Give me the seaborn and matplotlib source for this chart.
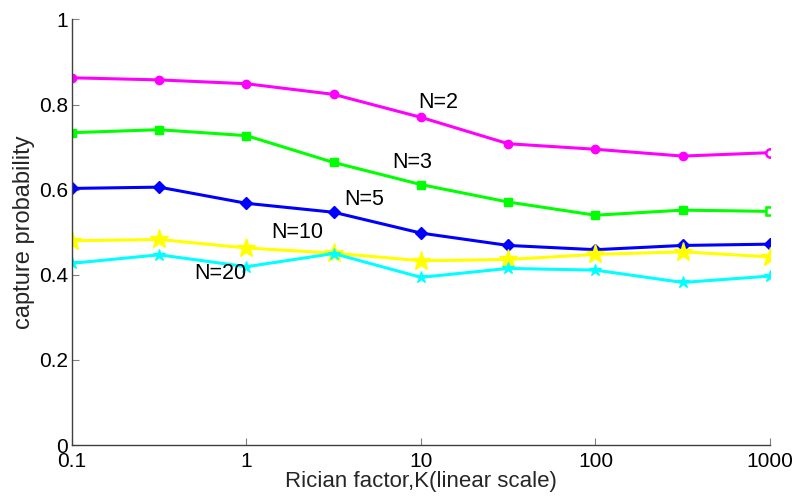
import numpy as np
import pandas as pd
import seaborn as sns
import matplotlib
matplotlib.use("Agg")
import matplotlib.pyplot as plt
from matplotlib.ticker import FixedLocator, FixedFormatter, NullLocator

K = [0.1, 0.316, 1, 3.16, 10, 31.6, 100, 316, 1000]
n2 = [0.863, 0.858, 0.849, 0.824, 0.770, 0.708, 0.695, 0.679, 0.687]
n3 = [0.734, 0.741, 0.727, 0.664, 0.612, 0.571, 0.540, 0.552, 0.549]
n5 = [0.603, 0.606, 0.568, 0.547, 0.498, 0.469, 0.459, 0.469, 0.472]
n10 = [0.480, 0.483, 0.463, 0.451, 0.433, 0.436, 0.448, 0.454, 0.442]
n20 = [0.427, 0.447, 0.419, 0.450, 0.394, 0.415, 0.411, 0.382, 0.397]
series_names = ["N=2", "N=3", "N=5", "N=10", "N=20"]
xticks = [0.1, 1, 10, 100, 1000]
xticklabels = ["0.1", "1", "10", "100", "1000"]
yticks = [0, 0.2, 0.4, 0.6, 0.8, 1]
yticklabels = ["0", "0.2", "0.4", "0.6", "0.8", "1"]
label_x = [12.5, 8.9, 4.7, 1.95, 0.71]
label_y = [0.804, 0.665, 0.578, 0.500, 0.404]

sns.set_style("white")
plt.rcParams['font.family'] = ['Liberation Sans', 'DejaVu Sans']

colors = ["#FF00FF", "#00FF00", "#0000FF", "#FFFF00", "#00FFFF"]
markers = ["o", "s", "D", "*", "*"]
msizes = [6, 6, 6, 14, 9]

fig = plt.figure(figsize=(7.97, 4.97), dpi=100)
ax = fig.add_axes([0.0903, 0.1046, 0.8758, 0.8562])

all_vals = [n2, n3, n5, n10, n20]
for vals, c, m, ms in zip(all_vals, colors, markers, msizes):
    sns.lineplot(x=K, y=vals, ax=ax, color=c, linewidth=2.2, marker=m,
                 markersize=ms, markeredgecolor=c, markerfacecolor=c,
                 markeredgewidth=1, estimator=None, sort=False)

# hollow end markers for N=2 and N=3
for vals, c, m in zip(all_vals[:2], colors[:2], markers[:2]):
    ax.plot([K[-1]], [vals[-1]], linestyle="none", marker=m, markersize=6,
            markerfacecolor="white", markeredgecolor=c, markeredgewidth=1.8,
            zorder=5)

for name, lx, ly in zip(series_names, label_x, label_y):
    ax.text(lx, ly, name, fontsize=15.5, ha="center", va="center", color="black")

ax.set_xscale("log")
ax.set_xlim(0.1, 1000)
ax.set_ylim(0, 1)
ax.xaxis.set_major_locator(FixedLocator(xticks))
ax.xaxis.set_major_formatter(FixedFormatter(xticklabels))
ax.xaxis.set_minor_locator(NullLocator())
ax.yaxis.set_major_locator(FixedLocator(yticks))
ax.yaxis.set_major_formatter(FixedFormatter(yticklabels))

for s in ["top", "right"]:
    ax.spines[s].set_visible(False)
for s in ["left", "bottom"]:
    ax.spines[s].set_color("#404040")
    ax.spines[s].set_linewidth(1.0)

ax.tick_params(axis="both", direction="in", length=5, width=0.8,
               color="#808080", labelsize=15, labelcolor="black", pad=3,
               left=True, bottom=True)
ax.tick_params(axis="x", pad=5)
ax.set_xlabel("Rician factor,K(linear scale)", fontsize=16, labelpad=0)
ax.set_ylabel("capture probability", fontsize=17, labelpad=3)

fig.savefig("out.png", dpi=100)
